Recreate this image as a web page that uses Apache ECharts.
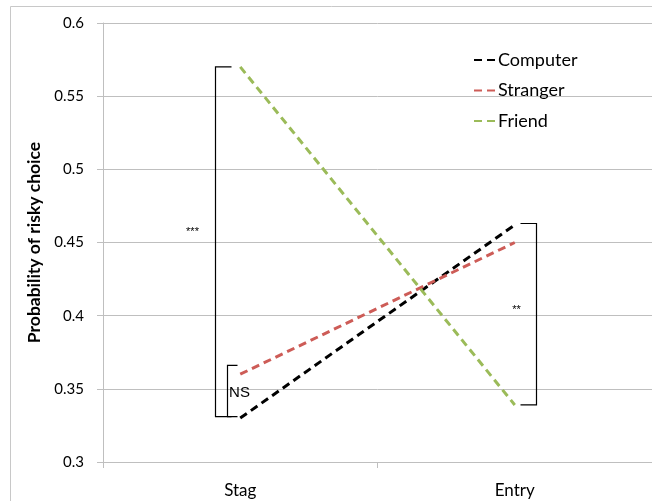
<!DOCTYPE html>
<html>
<head>
<meta charset="utf-8">
<script src="https://cdn.jsdelivr.net/npm/echarts@6/dist/echarts.min.js"></script>
<style>html,body{margin:0;padding:0;background:#fff}#c{width:652px;height:501px}</style>
</head>
<body>
<div id="c"></div>
<script>
var categories = ['Stag', 'Entry'];
var computer = [0.330, 0.462];
var stranger = [0.360, 0.450];
var friend = [0.570, 0.339];
var yTicks = { min: 0.3, max: 0.6, interval: 0.05 };
// brackets: [category, top value, bottom value, label, label value]
var bracketCats = ['Stag', 'Stag', 'Entry'];
var bracketTop = [0.570, 0.366, 0.463];
var bracketBottom = [0.331, 0.331, 0.339];
var bracketLabels = ['***', 'NS', '**'];
var bracketLabelValues = [0.457, 0.347, 0.404];

// pixel styling for brackets (offsets from category center)
var bracketStyle = [
  { dx: -25, tick: 16, tdx: -23, font: 11, family: 'Liberation Sans' },
  { dx: -13, tick: 10, tdx: 12, font: 15, family: 'Liberation Sans' },
  { dx: 21, tick: -16, tdx: -20, font: 11, family: 'Liberation Sans' }
];

var bracketData = bracketCats.map(function (c, i) {
  return [categories.indexOf(c), bracketTop[i], bracketBottom[i], bracketLabelValues[i], i];
});

var chart = echarts.init(document.getElementById('c'));
var FONT = 'Lato';
function lineSeries(name, data, color) {
  return {
    name: name, type: 'line', data: data, symbol: 'none', z: 3,
    lineStyle: { color: color, width: 3, type: [8, 5] },
    itemStyle: { color: color }
  };
}
chart.setOption({
  animation: false,
  graphic: [{
    type: 'rect', shape: { x: 10.5, y: 6.5, width: 700, height: 600 },
    style: { fill: 'none', stroke: '#c8c8c8', lineWidth: 1 }, silent: true, z: 0
  }],
  grid: { left: 103, top: 23, width: 552, bottom: 39 },
  legend: {
    data: ['Computer', 'Stranger', 'Friend'],
    orient: 'vertical', left: 473, top: 51, padding: 0,
    itemWidth: 21, itemHeight: 14, itemGap: 12.5,
    itemStyle: { opacity: 0 },
    textStyle: { fontFamily: FONT, fontSize: 18, color: '#000', padding: [0, 0, 0, -2] }
  },
  xAxis: {
    type: 'category', data: categories, boundaryGap: true,
    axisLine: { lineStyle: { color: '#bfbfbf', width: 1 } },
    axisTick: { show: true, length: 6, lineStyle: { color: '#bfbfbf' } },
    axisLabel: { fontFamily: FONT, fontSize: 17, color: '#000', margin: 20 },
    splitLine: { show: false }
  },
  yAxis: {
    type: 'value', min: yTicks.min, max: yTicks.max, interval: yTicks.interval,
    name: 'Probability of risky choice', nameLocation: 'middle', nameRotate: 90, nameGap: 45,
    nameTextStyle: { fontFamily: FONT, fontSize: 17.5, fontWeight: 'bold', color: '#000' },
    axisLine: { show: true, lineStyle: { color: '#bfbfbf', width: 1 } },
    axisTick: { show: true, length: 6, lineStyle: { color: '#bfbfbf' } },
    axisLabel: { fontFamily: FONT, fontSize: 15, color: '#000', margin: 19 },
    splitLine: { show: true, lineStyle: { color: '#bfbfbf', width: 1 } }
  },
  series: [
    lineSeries('Computer', computer, '#000000'),
    lineSeries('Stranger', stranger, '#cd5c57'),
    lineSeries('Friend', friend, '#9bbb59'),
    {
      type: 'custom', name: 'brackets', z: 4, clip: false, silent: true,
      data: bracketData,
      renderItem: function (params, api) {
        var ci = api.value(0), i = api.value(4);
        var st = bracketStyle[i];
        var pTop = api.coord([ci, api.value(1)]);
        var pBot = api.coord([ci, api.value(2)]);
        var pLab = api.coord([ci, api.value(3)]);
        var x = Math.round(pTop[0] + st.dx) + 0.5;
        return {
          type: 'group',
          children: [{
            type: 'polyline',
            shape: { points: [[x + st.tick, pTop[1]], [x, pTop[1]], [x, pBot[1]], [x + st.tick, pBot[1]]] },
            style: { stroke: '#000', lineWidth: 1.2, fill: 'none' }
          }, {
            type: 'text',
            x: x + st.tdx, y: pLab[1],
            style: {
              text: bracketLabels[i], fill: '#000', fontSize: st.font, fontFamily: st.family,
              align: 'center', verticalAlign: 'middle'
            }
          }]
        };
      }
    }
  ]
});
</script>
</body>
</html>
